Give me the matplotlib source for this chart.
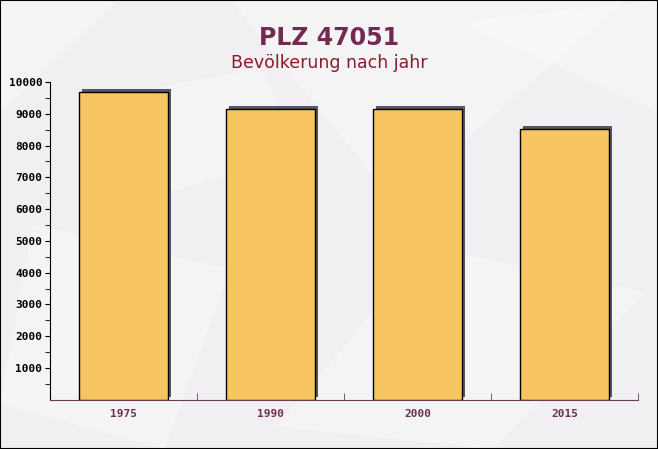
import matplotlib
matplotlib.use("Agg")
import matplotlib.pyplot as plt
import matplotlib.transforms as mtransforms
from matplotlib.patches import Polygon, Rectangle
import numpy as np

categories = ["1975", "1990", "2000", "2015"]
values = [9690, 9160, 9160, 8530]
yticks = [1000, 2000, 3000, 4000, 5000, 6000, 7000, 8000, 9000, 10000]

title = "PLZ 47051"
subtitle = "Bevölkerung nach jahr"

W, H = 658, 449
fig = plt.figure(figsize=(W / 100, H / 100), dpi=100)
fig.patch.set_facecolor("#f1eff1")

# faint background texture (envelope-like shapes)
shapes = [
    [(0.35, 1.0), (0.6, 0.55), (0.95, 1.0)],
    [(0.0, 0.75), (0.18, 1.0), (0.0, 1.0)],
    [(0.42, 0.05), (0.75, 0.0), (0.98, 0.35), (0.65, 0.45)],
    [(0.0, 0.1), (0.25, 0.0), (0.35, 0.4), (0.05, 0.5)],
    [(0.7, 0.95), (1.0, 0.75), (1.0, 1.0)],
    [(0.2, 0.55), (0.45, 0.65), (0.4, 0.85), (0.15, 0.78)],
]
for s in shapes:
    fig.patches.append(Polygon(s, closed=True, transform=fig.transFigure,
                               facecolor="white", edgecolor="none", alpha=0.35, zorder=0))
fig.patches.append(Rectangle((0, 0), 1, 1, transform=fig.transFigure, fill=False,
                             edgecolor="black", linewidth=1.5, zorder=10))

left = 50 / W
bottom = (H - 399.75) / H
top = (H - 82) / H
ax = fig.add_axes([left, bottom, 588 / W, top - bottom])
ax.set_zorder(5)
ax.set_facecolor("none")

x = np.arange(len(categories))
shadow_tr = mtransforms.offset_copy(ax.transData, fig=fig, x=3, y=3, units="dots")
ax.bar(x, values, width=0.6, color="#5a5560", edgecolor="none", transform=shadow_tr, zorder=2)
ax.bar(x, values, width=0.6, color="#f7c462", edgecolor="black", linewidth=1.0, zorder=3)

ax.set_xlim(-0.5, len(categories) - 0.5)
ax.set_ylim(0, 10000)

for sp in ["top", "right"]:
    ax.spines[sp].set_visible(False)
ax.spines["left"].set_color("black")
ax.spines["bottom"].set_color("#6d3a5a")

mono = "DejaVu Sans Mono"
ax.set_yticks(yticks)
ax.set_yticklabels([str(v) for v in yticks], fontfamily=mono, fontweight="bold", fontsize=8, color="black")
ax.set_yticks(np.arange(500, 10000, 1000), minor=True)
ax.tick_params(axis="y", which="both", direction="out", length=3.5, color="black", pad=2)

ax.set_xticks(x)
ax.set_xticklabels(categories, fontfamily=mono, fontweight="bold", fontsize=8, color="#6d2f55")
ax.tick_params(axis="x", which="major", length=0, pad=7)
ax.set_xticks(np.arange(0.5, len(categories), 1.0), minor=True)
ax.tick_params(axis="x", which="minor", direction="in", length=5, color="#6d3a5a")

fig.text(0.5, 1 - 38 / H, title, ha="center", va="center", fontsize=17, fontweight="bold",
         color="#722a52", family="DejaVu Sans")
fig.text(0.5, 1 - 63 / H, subtitle, ha="center", va="center", fontsize=12.5,
         color="#8b1a2a", family="DejaVu Sans")

fig.savefig("out.png", dpi=100, facecolor=fig.get_facecolor())
